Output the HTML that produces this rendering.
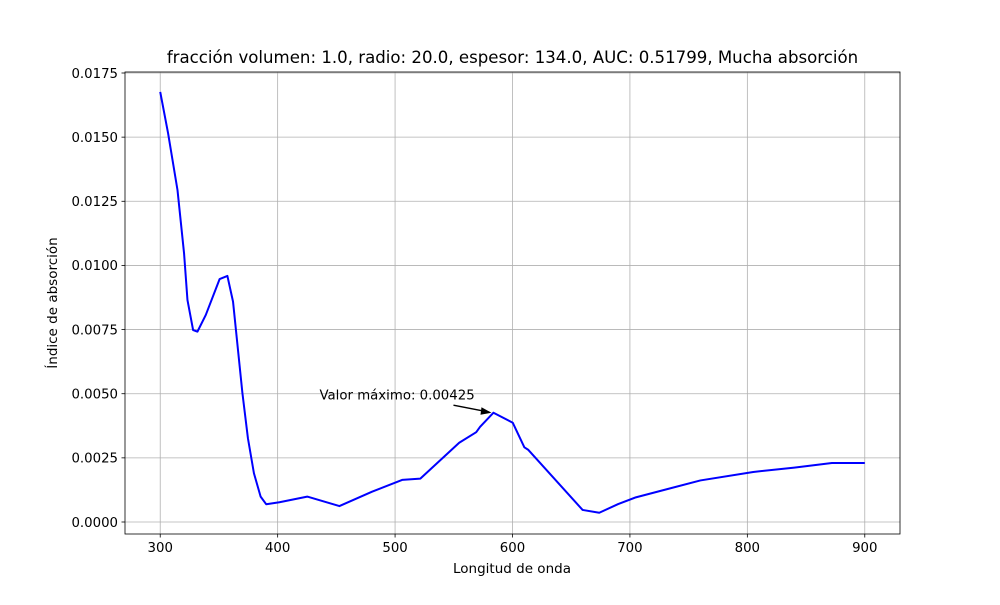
<!DOCTYPE html>
<html><head><meta charset="utf-8"><style>
body{margin:0;background:#fff;font-family:"Liberation Sans","DejaVu Sans",sans-serif}
svg text{font-family:"DejaVu Sans","Liberation Sans",sans-serif}
</style></head><body>
<svg id="chart" width="1000" height="600"></svg>
<script>
const xTicks=[300,400,500,600,700,800,900];
const yTicks=[0,0.0025,0.005,0.0075,0.01,0.0125,0.015,0.0175];
const yTickLabels=["0.0000","0.0025","0.0050","0.0075","0.0100","0.0125","0.0150","0.0175"];
const wavelengths=[300,306.7,314.7,320.3,323.2,328,331.7,338.8,350.6,357.2,362,370,374.7,379.8,385.5,390.3,401.5,425.2,452.6,480.4,506,521.5,554.6,569.1,572.4,583.8,600.2,610.1,613.5,659.7,673.9,690,705,735,760,805,840,872,900];
const absorption=[0.01676,0.01515,0.01294,0.01047,0.00865,0.00748,0.00742,0.00807,0.00947,0.00959,0.00859,0.00502,0.00326,0.0019,0.00099,0.00069,0.00077,0.00099,0.00062,0.00118,0.00164,0.00169,0.00309,0.0035,0.00371,0.00426,0.00387,0.00291,0.00281,0.00047,0.00036,0.0007,0.00096,0.00132,0.00162,0.00195,0.00212,0.0023,0.0023];
const L=125,R=900,T=72,B=534;
const xs=v=>L+(v-270)/(930-270)*(R-L);
const ys=v=>522-v*(449/0.0175);
const ns="http://www.w3.org/2000/svg",svg=document.getElementById('chart');
function mk(t,a,p){const e=document.createElementNS(ns,t);for(const k in a)e.setAttribute(k,a[k]);(p||svg).appendChild(e);return e;}
xTicks.forEach(v=>{const g=mk('g',{});


mk('line',{x1:xs(v),x2:xs(v),y1:T,y2:B,stroke:'#b0b0b0','stroke-width':0.8},g);
mk('line',{x1:xs(v),x2:xs(v),y1:B,y2:B+3.5,stroke:'#000','stroke-width':0.8},g);
const t=mk('text',{x:xs(v),y:B+18,'text-anchor':'middle','font-size':'13.3'},g);t.textContent=v;});
yTicks.forEach((v,i)=>{const g=mk('g',{});


mk('line',{x1:L,x2:R,y1:ys(v),y2:ys(v),stroke:'#b0b0b0','stroke-width':0.8},g);
mk('line',{x1:L-3.5,x2:L,y1:ys(v),y2:ys(v),stroke:'#000','stroke-width':0.8},g);
const t=mk('text',{x:L-7,y:ys(v)+4.8,'text-anchor':'end','font-size':'13.3'},g);t.textContent=yTickLabels[i];});
const line=mk('polyline',{points:wavelengths.map((w,i)=>xs(w)+','+ys(absorption[i])).join(' '),fill:'none',stroke:'#0000ff','stroke-width':2,'stroke-linejoin':'round'});


const fr=mk('rect',{x:L,y:T,width:R-L,height:B-T,fill:'none',stroke:'#000','stroke-width':0.8});


let mi=-1;absorption.forEach((v,i)=>{if(wavelengths[i]>450&&(mi<0||v>absorption[mi]))mi=i;});
const px=xs(wavelengths[mi]),py=ys(absorption[mi]);
const ann=mk('g',{});


mk('line',{x1:px-40,y1:py-7.5,x2:px-4,y2:py-0.5,stroke:'#000','stroke-width':1.5},ann);
mk('polygon',{points:`${px-2},${py} ${px-12},${py-5.5} ${px-13},${py+2}`,fill:'#000'},ann);
const at=mk('text',{x:px-174,y:py-13,'font-size':'13.3'},ann);at.textContent='Valor máximo: 0.00425';
</script>
<div style="position:absolute;left:0;top:48px;width:1025px;text-align:center;font-family:'DejaVu Sans','Liberation Sans',sans-serif;font-size:16.6px">fracción volumen: 1.0, radio: 20.0, espesor: 134.0, AUC: 0.51799, Mucha absorción</div>
<div style="position:absolute;left:412px;top:561px;width:200px;text-align:center;font-family:'DejaVu Sans','Liberation Sans',sans-serif;font-size:13.5px">Longitud de onda</div>
<div style="position:absolute;left:-47px;top:295px;width:200px;text-align:center;transform:rotate(-90deg);font-family:'DejaVu Sans','Liberation Sans',sans-serif;font-size:13.5px">Índice de absorción</div>
</body></html>
